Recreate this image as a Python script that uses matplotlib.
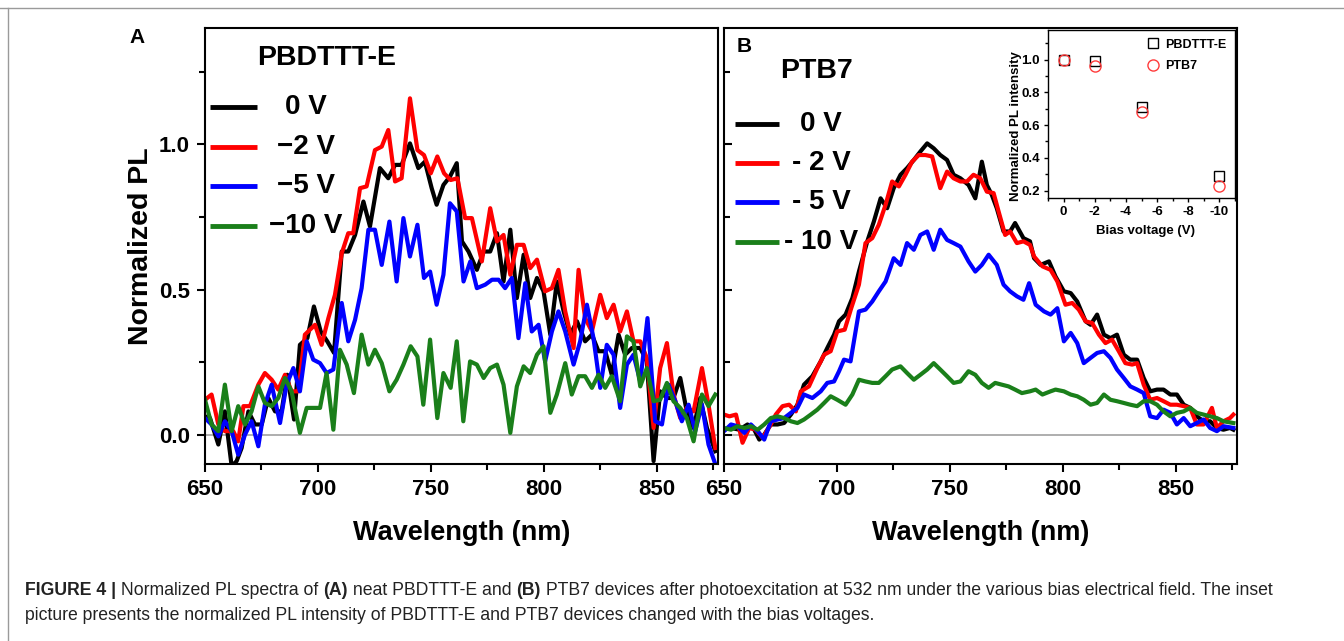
import matplotlib
matplotlib.use('Agg')
import matplotlib.pyplot as plt
from matplotlib.lines import Line2D
from matplotlib.ticker import MultipleLocator

plt.rcParams['font.family'] = ['Liberation Sans', 'DejaVu Sans']
plt.rcParams['font.weight'] = 'bold'
plt.rcParams['axes.labelweight'] = 'bold'
plt.rcParams['axes.unicode_minus'] = False

# ---- panel A: PBDTTT-E spectra ----
wl_a_0v = [650.0, 652.2, 655.9, 658.8, 661.8, 664.0, 666.2, 669.2, 672.1, 675.1, 678.0, 681.0, 683.9,
           686.4, 689.4, 692.0, 695.3, 698.2, 701.2, 704.1, 707.1, 710.5, 713.4, 716.4, 720.1, 723.0,
           727.4, 731.1, 734.1, 737.0, 740.7, 744.4, 747.3, 750.3, 752.5, 755.5, 758.4, 761.4, 763.7,
           766.6, 770.3, 773.3, 776.2, 779.2, 782.1, 785.1, 788.0, 791.0, 793.9, 796.9, 799.8, 802.8,
           805.7, 808.7, 811.6, 814.6, 818.2, 821.2, 824.1, 827.1, 830.0, 833.0, 835.9, 838.9, 842.6,
           845.5, 848.5, 851.4, 854.4, 857.3, 860.3, 863.2, 866.2, 869.1, 872.1, 875.8]
pl_a_0v = [0.064, 0.058, -0.033, 0.081, -0.108, -0.09, -0.045, 0.081, 0.036, 0.036, 0.127, 0.081, 0.081,
           0.207, 0.053, 0.31, 0.333, 0.442, 0.356, 0.322, 0.282, 0.631, 0.631, 0.688, 0.803, 0.717,
           0.918, 0.883, 0.929, 0.929, 1.003, 0.918, 0.94, 0.849, 0.792, 0.86, 0.889, 0.935, 0.666,
           0.631, 0.568, 0.631, 0.631, 0.694, 0.528, 0.706, 0.471, 0.62, 0.471, 0.54, 0.494, 0.345,
           0.528, 0.425, 0.345, 0.391, 0.322, 0.345, 0.288, 0.288, 0.207, 0.345, 0.276, 0.299, 0.299,
           0.253, -0.09, 0.15, 0.127, 0.127, 0.196, 0.081, 0.024, 0.127, 0.024, -0.056]

wl_a_2v = [650.0, 652.9, 655.9, 658.8, 662.5, 664.7, 667.0, 669.9, 673.6, 676.5, 679.5, 682.4, 685.4,
           688.3, 691.3, 694.2, 698.7, 701.6, 704.6, 707.5, 710.5, 713.4, 715.6, 718.6, 721.5, 725.2,
           728.2, 731.1, 734.1, 737.0, 740.7, 744.0, 746.9, 749.9, 752.8, 755.8, 758.7, 761.7, 765.1,
           768.1, 772.5, 776.2, 779.2, 782.1, 785.1, 788.0, 791.0, 793.9, 796.9, 800.5, 803.5, 806.4,
           809.4, 813.1, 815.3, 818.2, 821.2, 824.9, 827.8, 830.8, 833.7, 836.7, 839.6, 842.6, 845.5,
           848.5, 851.4, 854.4, 857.3, 860.3, 863.2, 866.2, 869.9, 872.8, 875.8]
pl_a_2v = [0.121, 0.139, 0.036, 0.013, 0.013, -0.022, 0.099, 0.099, 0.173, 0.213, 0.19, 0.156, 0.207,
           0.15, 0.15, 0.345, 0.379, 0.31, 0.402, 0.482, 0.625, 0.694, 0.694, 0.849, 0.855, 0.98,
           0.992, 1.049, 0.872, 0.883, 1.158, 0.98, 0.963, 0.9, 0.958, 0.9, 0.877, 0.883, 0.746,
           0.746, 0.597, 0.78, 0.666, 0.688, 0.551, 0.654, 0.654, 0.574, 0.603, 0.494, 0.505, 0.568,
           0.425, 0.299, 0.568, 0.402, 0.356, 0.482, 0.402, 0.448, 0.356, 0.425, 0.322, 0.322, 0.265,
           0.024, 0.23, 0.316, 0.139, 0.058, 0.093, 0.081, 0.23, 0.104, -0.045]

wl_a_5v = [650.0, 652.9, 655.9, 658.8, 661.8, 664.7, 667.7, 670.6, 673.6, 676.5, 679.5, 683.2, 686.1,
           689.1, 692.0, 695.0, 697.9, 700.9, 703.8, 706.8, 710.5, 713.4, 716.4, 719.3, 722.3, 725.2,
           728.2, 731.6, 734.8, 737.8, 740.7, 744.0, 746.9, 749.6, 752.5, 755.5, 758.4, 761.4,
           764.4, 767.4, 770.3, 774.0, 777.0, 779.9, 782.8, 785.8, 788.7, 791.7, 794.6, 797.6, 800.5,
           803.5, 806.4, 809.4, 813.1, 816.0, 819.0, 821.9, 824.9, 827.8, 830.8, 833.7, 836.7, 839.6,
           842.6, 845.8, 849.2, 852.2, 855.1, 858.1, 861.0, 864.0, 866.9, 869.9, 872.8, 875.8]
pl_a_5v = [0.058, 0.036, -0.005, 0.047, 0.013, -0.068, 0.001, 0.047, -0.039, 0.104, 0.173, 0.041, 0.173,
           0.23, 0.15, 0.322, 0.259, 0.247, 0.213, 0.225, 0.454, 0.322, 0.396, 0.505, 0.706, 0.706,
           0.585, 0.734, 0.528, 0.746, 0.614, 0.723, 0.54, 0.562, 0.448, 0.551, 0.797, 0.769,
           0.528, 0.597, 0.505, 0.517, 0.534, 0.534, 0.505, 0.54, 0.333, 0.522, 0.356, 0.379, 0.253,
           0.356, 0.425, 0.356, 0.242, 0.322, 0.448, 0.333, 0.162, 0.31, 0.276, 0.093, 0.242, 0.276,
           0.184, 0.402, 0.047, 0.036, 0.173, 0.116, 0.047, 0.104, 0.013, 0.104, -0.033, -0.1]

wl_a_10v = [650.0, 652.9, 655.9, 658.8, 661.8, 664.7, 667.7, 670.6, 673.6, 676.5, 679.5, 682.4, 685.4,
            688.3, 692.0, 695.0, 697.9, 700.9, 703.8, 706.8, 709.7, 712.7, 715.9, 719.3, 722.3, 725.2,
            728.2, 731.6, 734.8, 737.8, 741.0, 744.0, 746.6, 749.6, 752.8, 755.5, 758.7, 761.4, 764.3,
            767.3, 770.3, 773.3, 776.2, 779.2, 782.1, 785.1, 788.0, 791.0, 793.9, 796.9, 799.8, 802.8,
            805.7, 809.4, 812.3, 815.3, 818.2, 821.2, 824.1, 827.1, 830.0, 833.7, 836.7, 839.6, 842.6,
            845.5, 848.5, 851.4, 854.4, 857.3, 860.3, 863.2, 866.2, 869.9, 872.8, 875.8]
pl_a_10v = [0.121, 0.036, 0.013, 0.173, 0.013, 0.099, 0.036, 0.081, 0.167, 0.11, 0.099, 0.127, 0.196,
            0.15, 0.007, 0.093, 0.093, 0.093, 0.213, 0.018, 0.293, 0.242, 0.144, 0.345, 0.242, 0.293,
            0.247, 0.15, 0.19, 0.242, 0.305, 0.27, 0.104, 0.328, 0.058, 0.213, 0.162, 0.322, 0.047,
            0.253, 0.242, 0.196, 0.23, 0.242, 0.173, 0.007, 0.167, 0.236, 0.213, 0.276, 0.305, 0.076,
            0.139, 0.247, 0.139, 0.202, 0.202, 0.162, 0.207, 0.162, 0.202, 0.116, 0.339, 0.322, 0.167,
            0.23, 0.116, 0.121, 0.179, 0.116, 0.093, 0.058, -0.022, 0.139, 0.099, 0.139]

# ---- panel B: PTB7 spectra ----
wl_b_0v = [650.0, 653.1, 656.8, 660.4, 663.4, 665.6, 667.8, 670.7, 673.7, 676.6, 679.6, 682.5, 685.4,
           689.1, 692.8, 695.7, 698.7, 700.9, 703.8, 706.8, 709.7, 713.4, 716.3, 719.3, 722.2, 725.1,
           728.1, 731.0, 734.0, 736.9, 739.9, 742.8, 745.7, 748.7, 751.6, 754.6, 758.2, 761.2, 764.1,
           766.3, 768.5, 770.7, 773.7, 776.6, 778.8, 782.5, 785.4,
           787.2, 790.1, 793.8, 796.7, 800.4, 803.4, 806.3, 810.0, 812.2, 815.1, 818.1, 821.0, 823.9,
           826.9, 829.8, 832.8, 835.7, 838.6, 841.6, 844.5, 847.5, 850.4, 853.4, 856.3, 859.2, 862.2,
           865.1, 868.1, 871.0, 873.9, 875.4]
pl_b_0v = [0.018, 0.024, 0.018, 0.036, 0.018, -0.016, 0.001, 0.036, 0.036, 0.041, 0.07, 0.104, 0.173,
           0.202, 0.253, 0.299, 0.345, 0.391, 0.414, 0.471, 0.562, 0.666, 0.734, 0.814, 0.78, 0.849,
           0.895, 0.918, 0.946, 0.975, 1.003, 0.986, 0.963, 0.946, 0.895, 0.883, 0.86, 0.814, 0.94,
           0.86, 0.826, 0.78, 0.7, 0.7, 0.729, 0.677, 0.666,
           0.608, 0.585, 0.597, 0.545, 0.494, 0.488, 0.459, 0.391, 0.379, 0.414, 0.345, 0.333, 0.345,
           0.276, 0.259, 0.259, 0.196, 0.15, 0.156, 0.156, 0.139, 0.139, 0.104, 0.093, 0.064, 0.047,
           0.047, 0.024, 0.018, 0.024, 0.018]

wl_b_2v = [650.0, 652.4, 655.3, 658.2, 661.2, 664.1, 667.1, 670.7, 672.9, 675.9, 678.8, 681.8, 684.0,
           687.6, 691.3, 694.3, 697.2, 700.1, 703.4, 706.3, 709.7, 712.6, 715.6, 718.5, 721.5, 724.4,
           727.4, 730.3, 733.2, 736.2, 739.1, 742.1, 745.7, 748.7, 751.6, 754.6, 757.5, 760.4, 763.4,
           766.3, 769.3, 771.5, 774.4, 776.6, 779.6, 782.5, 785.4,
           787.2, 790.9, 794.5, 797.5, 801.1, 804.1, 807.0, 810.0, 812.9, 815.9, 818.8, 821.7, 824.7,
           827.6, 830.6, 832.8, 835.7, 838.6, 841.6, 844.5, 847.5, 850.4, 853.4, 856.3, 859.2, 862.2,
           865.9, 868.1, 871.0, 873.9, 875.4]
pl_b_2v = [0.07, 0.064, 0.07, -0.027, 0.024, 0.018, -0.01, 0.036, 0.07, 0.099, 0.104, 0.081, 0.15,
           0.167, 0.23, 0.276, 0.288, 0.356, 0.362, 0.436, 0.517, 0.66, 0.677, 0.723, 0.792, 0.872,
           0.855, 0.895, 0.94, 0.963, 0.963, 0.958, 0.849, 0.906, 0.883, 0.872, 0.872, 0.895, 0.883,
           0.837, 0.832, 0.769, 0.688, 0.7, 0.66, 0.666, 0.654,
           0.614, 0.58, 0.568, 0.528, 0.448, 0.454, 0.431, 0.391, 0.385, 0.345, 0.316, 0.328, 0.288,
           0.247, 0.242, 0.247, 0.173, 0.121, 0.127, 0.116, 0.104, 0.104, 0.099, 0.093, 0.036, 0.036,
           0.093, 0.024, 0.047, 0.058, 0.07]

wl_b_5v = [650.0, 653.1, 656.0, 659.0, 661.9, 664.9, 667.8, 670.7, 673.7, 676.6, 679.6, 682.5, 685.4,
           689.1, 692.8, 695.7, 698.7, 700.9, 703.1, 706.0, 709.7, 712.6, 715.6, 718.5, 721.5, 725.1,
           728.1, 731.0, 734.0, 736.9, 739.9, 742.8, 745.7, 748.7, 751.6, 754.6, 758.2, 761.2, 764.1,
           767.1, 770.7, 773.7, 776.6, 779.6, 782.5,
           785.0, 787.9, 791.6, 794.5, 797.5, 800.4, 803.4, 806.3, 809.2, 812.2, 815.1, 818.1, 821.0,
           823.9, 826.9, 829.8, 832.8, 835.7, 838.6, 841.6, 844.5, 847.5, 850.4, 853.4, 856.3, 859.2,
           862.2, 865.1, 868.1, 871.0, 875.4]
pl_b_5v = [0.013, 0.036, 0.03, 0.007, 0.036, 0.013, -0.016, 0.047, 0.053, 0.058, 0.076, 0.093, 0.139,
           0.127, 0.15, 0.179, 0.184, 0.219, 0.259, 0.253, 0.425, 0.431, 0.459, 0.494, 0.528, 0.608,
           0.585, 0.66, 0.637, 0.688, 0.7, 0.637, 0.706, 0.671, 0.66, 0.648, 0.597, 0.562, 0.585,
           0.62, 0.585, 0.517, 0.494, 0.477, 0.465,
           0.522, 0.448, 0.425, 0.414, 0.436, 0.322, 0.351, 0.316, 0.247, 0.265, 0.282, 0.288, 0.265,
           0.225, 0.196, 0.167, 0.156, 0.144, 0.064, 0.058, 0.087, 0.076, 0.036, 0.058, 0.03, 0.041,
           0.053, 0.024, 0.013, 0.03, 0.024]

wl_b_10v = [650.0, 653.1, 656.0, 659.0, 661.9, 664.9, 667.8, 670.7, 673.7, 676.6, 679.6, 682.5, 685.4,
            688.4, 691.3, 694.3, 697.2, 700.1, 703.8, 706.8, 709.7, 712.6, 715.6, 718.5, 721.5, 724.4,
            728.1, 731.0, 734.0, 736.9, 739.9, 742.8, 745.7, 748.7, 751.6, 754.6, 758.2, 761.2, 764.1,
            767.1, 770.0, 772.9, 775.9, 778.8, 781.8, 785.4,
            787.9, 790.9, 794.5, 796.7, 800.4, 803.4, 806.3, 809.2, 812.2, 815.1, 818.1, 821.0, 823.9,
            826.9, 829.8, 832.8, 835.7, 838.6, 841.6, 844.5, 847.5, 850.4, 853.4, 856.3, 859.2, 862.2,
            865.1, 868.1, 871.0, 875.4]
pl_b_10v = [0.024, 0.018, 0.03, 0.024, 0.03, 0.018, 0.036, 0.058, 0.064, 0.058, 0.047, 0.041, 0.053,
            0.07, 0.087, 0.11, 0.133, 0.121, 0.104, 0.139, 0.19, 0.184, 0.179, 0.179, 0.202, 0.225,
            0.236, 0.213, 0.19, 0.207, 0.225, 0.247, 0.225, 0.202, 0.179, 0.184, 0.219, 0.207, 0.179,
            0.162, 0.179, 0.173, 0.167, 0.156, 0.144, 0.15,
            0.156, 0.139, 0.15, 0.156, 0.15, 0.139, 0.133, 0.121, 0.104, 0.11, 0.139, 0.121, 0.116,
            0.11, 0.104, 0.099, 0.116, 0.116, 0.104, 0.081, 0.064, 0.076, 0.081, 0.093, 0.076, 0.07,
            0.064, 0.058, 0.047, 0.041]

# ---- inset: normalized PL intensity vs bias ----
bias = [0, -2, -5, -10]
pl_pbdttt = [1.0, 0.99, 0.71, 0.29]
pl_ptb7 = [1.0, 0.96, 0.68, 0.23]

colors = ['black', 'red', 'blue', '#1a7f1a']
labels_a = ['0 V', '\u22122 V', '\u22125 V', '\u221210 V']
labels_b = ['0 V', '- 2 V', '- 5 V', '- 10 V']

W, H = 1344, 641
fig = plt.figure(figsize=(W / 100, H / 100), dpi=100)
axA = fig.add_axes([205 / W, 177 / H, 513 / W, 436 / H])
axB = fig.add_axes([724 / W, 177 / H, 513 / W, 436 / H])


def style_panel(ax):
    ax.set_xlim(650, 877)
    ax.set_ylim(-0.1, 1.4)
    ax.axhline(0, color='#a8a8a8', lw=1.3, zorder=0)
    ax.xaxis.set_major_locator(MultipleLocator(50))
    ax.xaxis.set_minor_locator(MultipleLocator(25))
    ax.yaxis.set_major_locator(MultipleLocator(0.5))
    ax.yaxis.set_minor_locator(MultipleLocator(0.25))
    ax.tick_params(which='major', length=6, width=1.5, labelsize=16, pad=5)
    ax.tick_params(which='minor', length=4, width=1.5)
    for s in ax.spines.values():
        s.set_linewidth(1.5)
    ax.set_xlabel('Wavelength (nm)', fontsize=19.5)
    ax.xaxis.set_label_coords(0.5, -0.128)


style_panel(axA)
style_panel(axB)
axB.tick_params(axis='y', which='both', direction='in', labelleft=False)

for wl, pl, c in zip([wl_a_0v, wl_a_2v, wl_a_5v, wl_a_10v], [pl_a_0v, pl_a_2v, pl_a_5v, pl_a_10v], colors):
    axA.plot(wl, pl, color=c, lw=3)
for wl, pl, c in zip([wl_b_0v, wl_b_2v, wl_b_5v, wl_b_10v], [pl_b_0v, pl_b_2v, pl_b_5v, pl_b_10v], colors):
    axB.plot(wl, pl, color=c, lw=3)

axA.set_ylabel('Normalized PL', fontsize=20.5)
axA.yaxis.set_label_coords(-0.1, 0.5)

# hand-made legends (text centred next to the line sample)
for i, (c, lab) in enumerate(zip(colors, labels_a)):
    y = 0.819 - i * 0.091
    axA.plot([0.01, 0.101], [y, y], color=c, lw=3.5, transform=axA.transAxes, solid_capstyle='butt')
    axA.text(0.197, y, lab, transform=axA.transAxes, ha='center', va='center', fontsize=20)
for i, (c, lab) in enumerate(zip(colors, labels_b)):
    y = 0.78 - i * 0.09
    axB.plot([0.021, 0.107], [y, y], color=c, lw=3.5, transform=axB.transAxes, solid_capstyle='butt')
    axB.text(0.189, y, lab, transform=axB.transAxes, ha='center', va='center', fontsize=20)

axA.text(0.238, 0.931, 'PBDTTT-E', transform=axA.transAxes, ha='center', va='center', fontsize=20.5)
axB.text(0.181, 0.901, 'PTB7', transform=axB.transAxes, ha='center', va='center', fontsize=20.5)
fig.text(137 / W, 1 - 37.5 / H, 'A', ha='center', va='center', fontsize=15)
fig.text(744 / W, 1 - 46 / H, 'B', ha='center', va='center', fontsize=15)

# inset
axI = fig.add_axes([1048 / W, 443 / H, 187 / W, 168 / H])
axI.plot(bias, pl_pbdttt, 's', mfc='none', mec='black', ms=7, mew=1, label='PBDTTT-E')
axI.plot(bias, pl_ptb7, 'o', mfc='none', mec='#ff3b3b', ms=8, mew=1, label='PTB7')
axI.set_xlim(1, -11)
axI.set_ylim(0.155, 1.18)
axI.xaxis.set_major_locator(MultipleLocator(2))
axI.xaxis.set_minor_locator(MultipleLocator(1))
axI.yaxis.set_major_locator(MultipleLocator(0.2))
axI.yaxis.set_minor_locator(MultipleLocator(0.1))
axI.tick_params(which='major', length=3, width=1, labelsize=9.5, pad=3)
axI.tick_params(which='minor', length=2, width=1)
for s in axI.spines.values():
    s.set_linewidth(1)
axI.set_xlabel('Bias voltage (V)', fontsize=9.5)
axI.xaxis.set_label_coords(0.519, -0.16)
axI.set_ylabel('Normalized PL intensity', fontsize=9.5)
axI.yaxis.set_label_coords(-0.14, 0.43)
axI.legend(loc='upper right', frameon=False, fontsize=9, handletextpad=0.4,
           borderaxespad=0.3, labelspacing=0.75, handlelength=1.2)

# frame of the figure box
fig.add_artist(Line2D([0, 1], [1 - 8 / H, 1 - 8 / H], transform=fig.transFigure, color='#9a9a9a', lw=1))
fig.add_artist(Line2D([8 / W, 8 / W], [0, 1 - 8 / H], transform=fig.transFigure, color='#9a9a9a', lw=1))

# caption, mixing bold and regular pieces on one line
cap1 = [('FIGURE 4 |', 'bold'), (' Normalized PL spectra of ', 'normal'), ('(A)', 'bold'),
        (' neat PBDTTT-E and ', 'normal'), ('(B)', 'bold'),
        (' PTB7 devices after photoexcitation at 532 nm under the various bias electrical field. The inset',
         'normal')]
cap2 = 'picture presents the normalized PL intensity of PBDTTT-E and PTB7 devices changed with the bias voltages.'
cap_size = 12.7
t = fig.text(25 / W, 1 - 599 / H, cap1[0][0], fontsize=cap_size, weight='bold', color='#222222', va='bottom')
for s, w in cap1[1:]:
    t = axA.annotate(s, xy=(1, 0), xycoords=t, va='bottom', ha='left', fontsize=cap_size,
                     weight=w, color='#222222', annotation_clip=False)
fig.text(25 / W, 1 - 624 / H, cap2, fontsize=cap_size, weight='normal', color='#222222', va='bottom')

fig.savefig('out.png', dpi=100)
